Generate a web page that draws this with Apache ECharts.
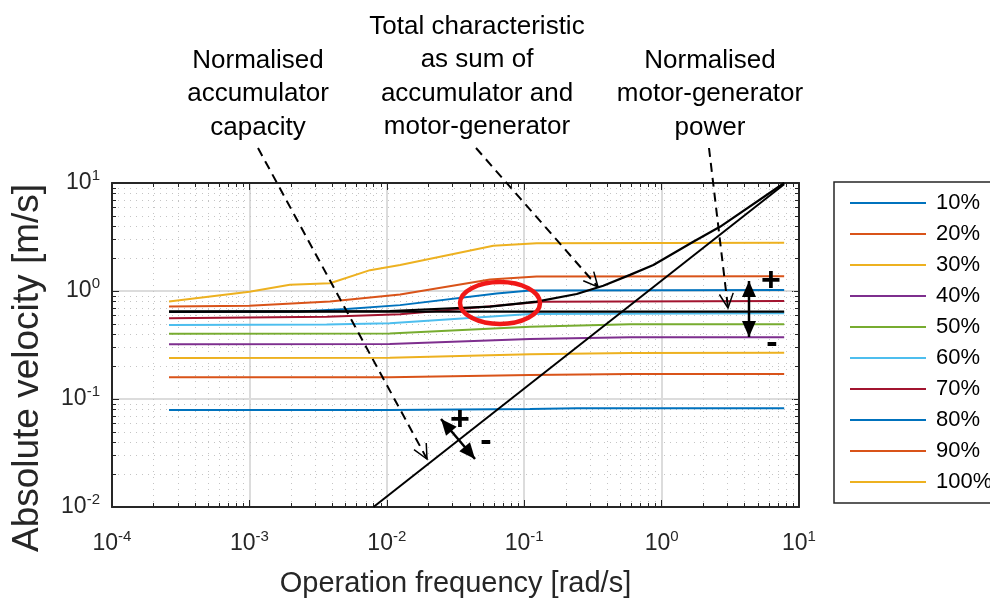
<!DOCTYPE html>
<html>
<head>
<meta charset="utf-8">
<script src="https://cdn.jsdelivr.net/npm/echarts@6/dist/echarts.min.js"></script>
<style>
  html, body { margin: 0; padding: 0; background: #fff; }
  #chart { width: 990px; height: 598px; }
</style>
</head>
<body>
<div id="chart"></div>
<script>
const FONT = '"Liberation Sans", Arial, Helvetica, sans-serif'
const AXIS_COLOR = '#262626'

const legendNames = ['10%', '20%', '30%', '40%', '50%', '60%', '70%', '80%', '90%', '100%']
const colors = ['#0072BD', '#D95319', '#EDB120', '#7E2F8E', '#77AC30', '#4DBEEE', '#A2142F', '#0072BD', '#D95319', '#EDB120']

// [frequency rad/s, velocity m/s]
const p10 = [[2.6e-4, 0.079], [0.0105, 0.079], [0.11, 0.081], [0.241, 0.082], [7.8, 0.082]]
const p20 = [[2.6e-4, 0.159], [0.0105, 0.159], [0.11, 0.167], [0.589, 0.17], [7.8, 0.17]]
const p30 = [[2.6e-4, 0.24], [0.0105, 0.241], [0.11, 0.259], [0.589, 0.267], [7.8, 0.268]]
const p40 = [[2.6e-4, 0.321], [0.0105, 0.323], [0.11, 0.36], [0.589, 0.373], [7.8, 0.373]]
const p50 = [[2.6e-4, 0.403], [0.0105, 0.405], [0.11, 0.467], [0.589, 0.492], [7.8, 0.492]]
const p60 = [[2.6e-4, 0.484], [3.65e-3, 0.49], [0.0105, 0.502], [0.11, 0.613], [7.8, 0.622]]
const p70 = [[2.6e-4, 0.56], [3.65e-3, 0.578], [0.0125, 0.608], [0.134, 0.796], [7.8, 0.808]]
const p80 = [[2.6e-4, 0.64], [2.33e-3, 0.645], [5.1e-3, 0.68], [0.0125, 0.74], [0.063, 0.95], [0.11, 1.01], [7.8, 1.02]]
const p90 = [[2.6e-4, 0.72], [1e-3, 0.73], [3.86e-3, 0.8], [0.0125, 0.93], [0.0564, 1.28], [0.123, 1.36], [7.8, 1.37]]
const p100 = [[2.6e-4, 0.8], [1e-3, 0.986], [1.97e-3, 1.14], [3.86e-3, 1.18], [7.55e-3, 1.56], [0.0125, 1.74], [0.0596, 2.62], [0.123, 2.77], [7.8, 2.8]]
const percentCurves = [p10, p20, p30, p40, p50, p60, p70, p80, p90, p100]

const accumulator = [[2.6e-4, 0.644], [7.8, 0.644]]
const motorGenerator = [[0.008, 0.01], [7.8, 9.75]]
const total = [[2.6e-4, 0.644], [0.0105, 0.653], [0.0564, 0.716], [0.123, 0.796], [0.241, 0.938], [0.376, 1.12], [0.589, 1.41], [0.871, 1.74], [1.7, 2.86], [2.66, 3.93], [7.8, 10]]

// axis ranges (decades)
const xMin = 1e-4, xMax = 10
const yMin = 1e-2, yMax = 10

// minor grid positions 2..9 x 10^k
const xMinor = []
for (let e = -4; e < 1; e++) for (let m = 2; m <= 9; m++) xMinor.push([m * Math.pow(10, e), 1])
const yMinor = []
for (let e = -2; e < 1; e++) for (let m = 2; m <= 9; m++) yMinor.push([1e-3, m * Math.pow(10, e)])

const myChart = echarts.init(document.getElementById('chart'))

function minorX(params, api) {
  const cs = params.coordSys
  const x = Math.round(api.coord([api.value(0), 1])[0]) + 0.5
  const top = cs.y, bottom = cs.y + cs.height
  return {
    type: 'group',
    children: [
      { type: 'line', shape: { x1: x, y1: top, x2: x, y2: bottom }, style: { stroke: '#c4c4c4', lineWidth: 1, lineDash: [1, 5] } },
      { type: 'line', shape: { x1: x, y1: bottom, x2: x, y2: bottom - 4 }, style: { stroke: AXIS_COLOR, lineWidth: 1 } },
      { type: 'line', shape: { x1: x, y1: top, x2: x, y2: top + 4 }, style: { stroke: AXIS_COLOR, lineWidth: 1 } }
    ]
  }
}

function minorY(params, api) {
  const cs = params.coordSys
  const y = Math.round(api.coord([1, api.value(1)])[1]) + 0.5
  const left = cs.x, right = cs.x + cs.width
  return {
    type: 'group',
    children: [
      { type: 'line', shape: { x1: left, y1: y, x2: right, y2: y }, style: { stroke: '#c4c4c4', lineWidth: 1, lineDash: [1, 5] } },
      { type: 'line', shape: { x1: left, y1: y, x2: left + 4, y2: y }, style: { stroke: AXIS_COLOR, lineWidth: 1 } },
      { type: 'line', shape: { x1: right, y1: y, x2: right - 4, y2: y }, style: { stroke: AXIS_COLOR, lineWidth: 1 } }
    ]
  }
}

// open "V" head for dashed callouts
function openHead(x1, y1, x2, y2, len, ang) {
  const a = Math.atan2(y1 - y2, x1 - x2)
  return [
    [x2 + len * Math.cos(a + ang), y2 + len * Math.sin(a + ang)],
    [x2, y2],
    [x2 + len * Math.cos(a - ang), y2 + len * Math.sin(a - ang)]
  ]
}

// filled triangular head pointing at (tx, ty)
function solidHead(tx, ty, fx, fy, len, half) {
  const a = Math.atan2(ty - fy, tx - fx)
  const bx = tx - len * Math.cos(a), by = ty - len * Math.sin(a)
  return [[tx, ty], [bx - half * Math.sin(a), by + half * Math.cos(a)], [bx + half * Math.sin(a), by - half * Math.cos(a)]]
}

function callout(x1, y1, x2, y2) {
  return [
    { type: 'line', shape: { x1: x1, y1: y1, x2: x2, y2: y2 }, style: { stroke: '#000', lineWidth: 2, lineDash: [9, 6] }, z: 100 },
    { type: 'polyline', shape: { points: openHead(x1, y1, x2, y2, 16, 0.45) }, style: { stroke: '#000', lineWidth: 1.5, fill: null }, z: 100 }
  ]
}

function doubleArrow(x1, y1, x2, y2) {
  return [
    { type: 'line', shape: { x1: x1, y1: y1, x2: x2, y2: y2 }, style: { stroke: '#000', lineWidth: 2.5 }, z: 100 },
    { type: 'polygon', shape: { points: solidHead(x1, y1, x2, y2, 16, 7) }, style: { fill: '#000' }, z: 100 },
    { type: 'polygon', shape: { points: solidHead(x2, y2, x1, y1, 16, 7) }, style: { fill: '#000' }, z: 100 }
  ]
}

function note(x, y, text) {
  return { type: 'text', x: x, y: y, z: 100, style: { text: text, fontSize: 26, fontFamily: FONT, fill: '#000', align: 'center', verticalAlign: 'top', lineHeight: 33.5 } }
}

function sign(x, y, text) {
  return { type: 'text', x: x, y: y, z: 100, style: { text: text, fontSize: 34, fontWeight: 'bold', fontFamily: FONT, fill: '#000', align: 'center', verticalAlign: 'middle' } }
}

const tickLabel = {
  formatter: function (v) { return '{b|10}{e|' + Math.round(Math.log10(v)) + '}' },
  rich: {
    b: { fontSize: 23, fontFamily: FONT, color: AXIS_COLOR, lineHeight: 30 },
    e: { fontSize: 15, fontFamily: FONT, color: AXIS_COLOR, verticalAlign: 'top', lineHeight: 15 }
  }
}

const series = percentCurves.map(function (d, i) {
  return {
    name: legendNames[i],
    type: 'line',
    data: d,
    symbol: 'none',
    lineStyle: { color: colors[i], width: 2 },
    itemStyle: { color: colors[i] },
    z: 3
  }
})

series.push(
  { name: 'accumulator', type: 'line', data: accumulator, symbol: 'none', lineStyle: { color: '#000', width: 2.4 }, z: 4 },
  { name: 'motor-generator', type: 'line', data: motorGenerator, symbol: 'none', lineStyle: { color: '#000', width: 2 }, z: 4 },
  { name: 'total', type: 'line', data: total, symbol: 'none', lineStyle: { color: '#000', width: 2.2 }, z: 4 },
  { name: 'xMinor', type: 'custom', data: xMinor, renderItem: minorX, silent: true, z: 1 },
  { name: 'yMinor', type: 'custom', data: yMinor, renderItem: minorY, silent: true, z: 1 }
)

const graphic = [].concat(
  note(258, 44, 'Normalised\naccumulator\ncapacity'),
  note(477, 10, 'Total characteristic\nas sum of\naccumulator and\nmotor-generator'),
  note(710, 44, 'Normalised\nmotor-generator\npower'),
  callout(258, 148, 427, 459),
  callout(476, 148, 598, 287),
  callout(709, 148, 728, 308),
  doubleArrow(441, 419, 475, 459),
  doubleArrow(749, 281, 749, 337),
  sign(460, 421, '+'),
  sign(486, 442, '-'),
  sign(771, 282, '+'),
  sign(772, 344, '-'),
  [{ type: 'ellipse', z: 100, shape: { cx: 500, cy: 303, rx: 40, ry: 21 }, style: { stroke: '#f01818', lineWidth: 4.5, fill: null } }],
  [{
    type: 'text', z: 100, x: 28, y: 368, rotation: Math.PI / 2,
    style: { text: 'Absolute velocity [m/s]', fontSize: 37, fontFamily: FONT, fill: AXIS_COLOR, align: 'center', verticalAlign: 'middle' }
  }]
)

const option = {
  animation: false,
  backgroundColor: '#fff',
  color: colors,
  grid: { left: 112, top: 183, right: 191, bottom: 91, containLabel: false, outerBoundsMode: 'none' },
  legend: {
    data: legendNames,
    orient: 'vertical',
    left: 834,
    top: 182,
    padding: [10, 40, 10, 16],
    icon: 'rect',
    itemWidth: 76,
    itemHeight: 2,
    itemGap: 9,
    borderColor: AXIS_COLOR,
    borderWidth: 1.5,
    textStyle: { fontSize: 22, lineHeight: 20, fontFamily: FONT, color: '#000', padding: [0, 0, 0, 5] }
  },
  xAxis: [
    {
      type: 'log', logBase: 10, min: xMin, max: xMax,
      name: 'Operation frequency [rad/s]',
      nameLocation: 'middle',
      nameGap: 62,
      nameTextStyle: { fontSize: 29, fontFamily: FONT, color: AXIS_COLOR },
      axisLine: { show: true, lineStyle: { color: AXIS_COLOR, width: 2 } },
      axisTick: { show: true, inside: true, length: 7, lineStyle: { color: AXIS_COLOR, width: 1 } },
      axisLabel: Object.assign({ margin: 22 }, tickLabel),
      splitLine: { show: true, lineStyle: { color: '#dcdcdc', width: 2 } }
    },
    {
      type: 'log', logBase: 10, min: xMin, max: xMax, position: 'top',
      axisLine: { show: true, lineStyle: { color: AXIS_COLOR, width: 2 } },
      axisTick: { show: true, inside: true, length: 7, lineStyle: { color: AXIS_COLOR, width: 1 } },
      axisLabel: { show: false },
      splitLine: { show: false }
    }
  ],
  yAxis: [
    {
      type: 'log', logBase: 10, min: yMin, max: yMax,
      axisLine: { show: true, lineStyle: { color: AXIS_COLOR, width: 2 } },
      axisTick: { show: true, inside: true, length: 7, lineStyle: { color: AXIS_COLOR, width: 1 } },
      axisLabel: Object.assign({ margin: 12 }, tickLabel),
      splitLine: { show: true, lineStyle: { color: '#dcdcdc', width: 2 } }
    },
    {
      type: 'log', logBase: 10, min: yMin, max: yMax, position: 'right',
      axisLine: { show: true, lineStyle: { color: AXIS_COLOR, width: 2 } },
      axisTick: { show: true, inside: true, length: 7, lineStyle: { color: AXIS_COLOR, width: 1 } },
      axisLabel: { show: false },
      splitLine: { show: false }
    }
  ],
  series: series,
  graphic: graphic
}

option && myChart.setOption(option)
</script>
</body>
</html>
